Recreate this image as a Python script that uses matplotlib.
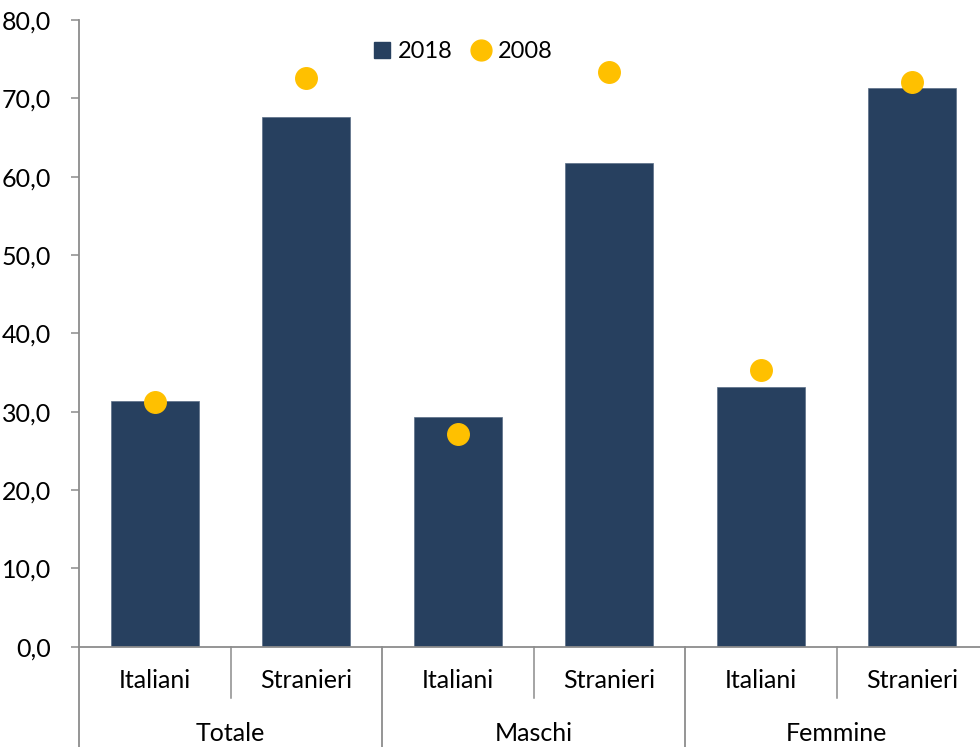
import matplotlib.pyplot as plt
from matplotlib.lines import Line2D
from matplotlib.ticker import FuncFormatter

groups = ["Totale", "Maschi", "Femmine"]
subgroups = ["Italiani", "Stranieri"]
val_2018 = [31.4, 67.6, 29.3, 61.8, 33.2, 71.3]
val_2008 = [31.3, 72.6, 27.1, 73.3, 35.3, 72.1]

navy = "#27405f"
gold = "#ffc000"
grey = "#8c8c8c"

plt.rcParams["font.family"] = ["Lato", "DejaVu Sans"]
fs = 18

fig = plt.figure(figsize=(9.8, 7.47), dpi=100)
ax = fig.add_axes([79 / 980, 100.3 / 747, 909 / 980, 626.7 / 747])

x = list(range(len(val_2018)))
ax.bar(x, val_2018, width=0.58, color=navy, edgecolor="#5a6e87", linewidth=0.5, zorder=2)
ax.plot(x, val_2008, "o", color=gold, markersize=15.5, zorder=3)

ax.set_xlim(-0.5, 5.5)
ax.set_ylim(0, 80)
ax.set_yticks(range(0, 81, 10))
ax.yaxis.set_major_formatter(FuncFormatter(lambda v, p: f"{v:.1f}".replace(".", ",")))
ax.tick_params(axis="y", direction="out", length=6, width=1.1, color=grey, pad=14, labelsize=fs)
ax.set_xticks([])

for s in ["top", "right"]:
    ax.spines[s].set_visible(False)
for s in ["left", "bottom"]:
    ax.spines[s].set_color(grey)
    ax.spines[s].set_linewidth(1.3)

# two-level category axis
tr = ax.get_xaxis_transform()
px = 1 / 626.7
for i, xi in enumerate(x):
    ax.text(xi, -34 * px, subgroups[i % 2], transform=tr, ha="center", va="center", fontsize=fs)
for g, name in enumerate(groups):
    ax.text(2 * g + 0.5, -87 * px, name, transform=tr, ha="center", va="center", fontsize=fs)
    ax.add_line(Line2D([2 * g + 0.5] * 2, [0, -51 * px], transform=tr, color=grey, lw=1.1, clip_on=False))
for b in [-0.5, 1.5, 3.5]:
    ax.add_line(Line2D([b, b], [0, -110 * px], transform=tr, color=grey, lw=1.3, clip_on=False))

handles = [
    Line2D([], [], marker="s", linestyle="none", color=navy, markersize=11),
    Line2D([], [], marker="o", linestyle="none", color=gold, markersize=15),
]
fig.legend(handles, ["2018", "2008"], loc="center", bbox_to_anchor=(0.472, 0.931),
           frameon=False, ncol=2, handlelength=0.8, handletextpad=0.3, columnspacing=0.8,
           fontsize=17)

fig.savefig("out.png", dpi=100)
